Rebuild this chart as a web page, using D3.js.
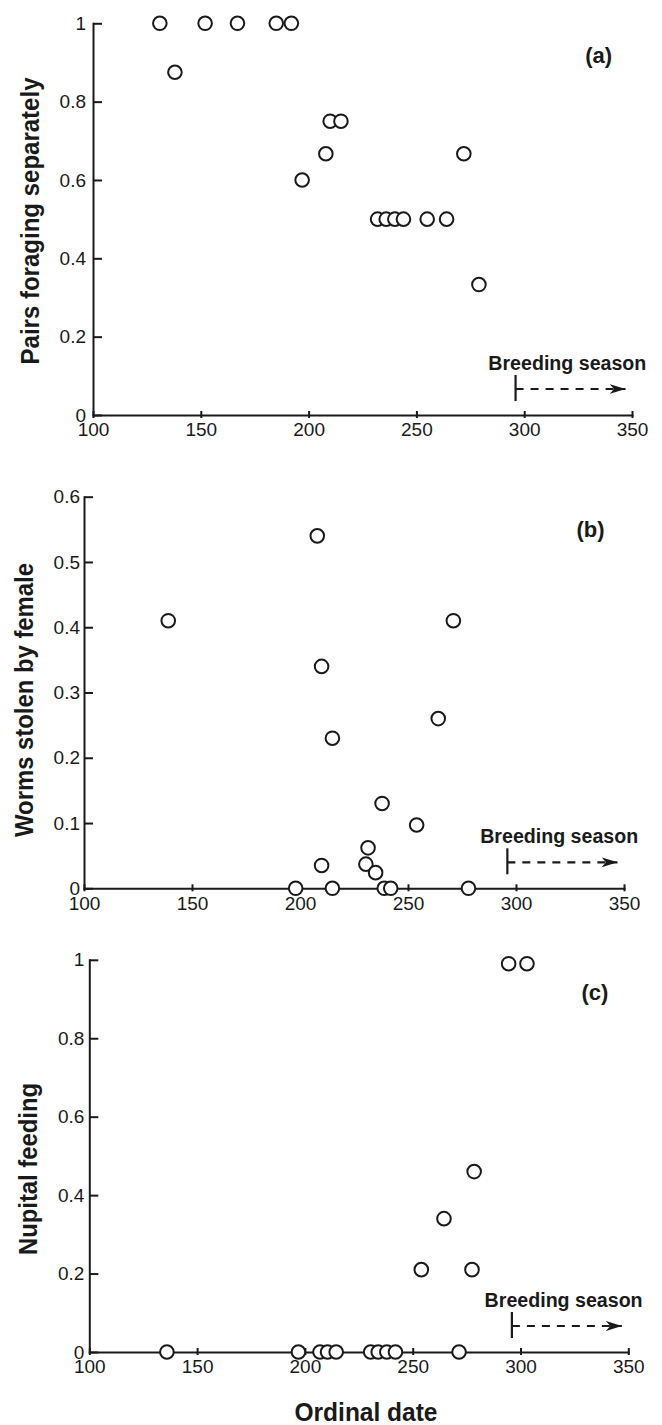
<!DOCTYPE html>
<head>
  <title>Pairs, worms and nupital feeding by ordinal date</title>
  <meta charset="utf-8">
  <style>
  body { margin: 0; background: #fff; }
  svg text { font-family: "Liberation Sans", Arial, sans-serif; fill: #1a1a1a; }
  .tick text { font-size: 19px; }
  .axis path, .axis line { stroke: #1a1a1a; stroke-width: 2; }
  .axisTitle { font-size: 25px; font-weight: bold; }
  .panelLabel { font-size: 22px; font-weight: bold; }
  .season { font-size: 20px; font-weight: bold; }
  circle.pt { fill: #fff; stroke: #1a1a1a; stroke-width: 2; }
  .seasonLine { stroke: #1a1a1a; stroke-width: 2.2; fill: none; }
  </style>
</head>

<body>
  <script src="https://cdn.jsdelivr.net/npm/d3@7"></script>
  <script>
    const width = 662;
    const height = 1425;

    // ticks
    const X_TICKS = [100, 150, 200, 250, 300, 350];
    const Y_TICKS_UNIT = [0, 0.2, 0.4, 0.6, 0.8, 1];
    const Y_TICKS_WORMS = [0, 0.1, 0.2, 0.3, 0.4, 0.5, 0.6];

    // breeding season marker (ordinal date)
    const BREEDING_START = 296;
    const BREEDING_ARROW_END = 347;
    const PANEL_LABEL_DATE = 334.5;
    const SEASON_LABEL_DATE = 320;

    // (a) pairs foraging separately
    const datesA = [131, 138, 152, 167, 185, 192, 197, 208, 210, 215, 232, 236, 240, 244, 255, 264, 272, 279];
    const pairsSeparate = [1, 0.875, 1, 1, 1, 1, 0.6, 0.667, 0.75, 0.75, 0.5, 0.5, 0.5, 0.5, 0.5, 0.5, 0.667, 0.333];

    // (b) worms stolen by female
    const datesB = [139, 198, 208, 210, 210, 215, 215, 230.5, 231.5, 235, 238, 239, 242, 254, 264, 271, 278];
    const wormsStolen = [0.41, 0, 0.54, 0.34, 0.035, 0.23, 0, 0.037, 0.062, 0.024, 0.13, 0, 0, 0.097, 0.26, 0.41, 0];

    // (c) nupital feeding
    const datesC = [136, 197, 207, 210.5, 214.5, 230.5, 234, 238, 242, 254, 264.5, 271.5, 277.5, 278.5, 294.5, 303];
    const nupitalFeeding = [0, 0, 0, 0, 0, 0, 0, 0, 0, 0.21, 0.34, 0, 0.21, 0.46, 0.99, 0.99];

    const svg = d3.select("body")
      .append("svg")
      .attr("width", width)
      .attr("height", height);

    svg.append("defs").append("marker")
      .attr("id", "arrowhead")
      .attr("markerUnits", "userSpaceOnUse")
      .attr("viewBox", "0 0 16 10")
      .attr("refX", 16)
      .attr("refY", 5)
      .attr("markerWidth", 16)
      .attr("markerHeight", 10)
      .attr("orient", "auto")
      .append("path")
      .attr("d", "M0,0 L16,5 L0,10 L4.5,5 Z")
      .attr("fill", "#1a1a1a");

    const drawPanel = p => {
      let xScale = d3.scaleLinear().domain([100, 350]).range([p.left, p.right]);
      let yScale = d3.scaleLinear().domain([0, p.yMax]).range([p.bottom, p.top]);

      let g = svg.append("g").attr("id", p.id);

      // x axis, ticks crossing the line
      let xAxis = g.append("g")
        .attr("class", "axis")
        .attr("transform", `translate(0,${p.bottom})`)
        .call(d3.axisBottom(xScale)
          .tickValues(X_TICKS)
          .tickSizeInner(-4)
          .tickSizeOuter(0)
          .tickPadding(8)
          .tickFormat(d3.format("d")));
      xAxis.selectAll(".tick line").attr("y1", 3);

      // y axis, ticks pointing inward
      g.append("g")
        .attr("class", "axis")
        .attr("transform", `translate(${p.left},0)`)
        .call(d3.axisLeft(yScale)
          .tickValues(p.yTicks)
          .tickSizeInner(-9)
          .tickSizeOuter(0)
          .tickPadding(p.yPad)
          .tickFormat(d => String(d)));

      g.selectAll(".axis .domain").attr("stroke-linecap", "square");

      // points
      g.append("g")
        .selectAll("circle")
        .data(p.dates.map((d, i) => ({ date: d, value: p.values[i] })))
        .enter()
        .append("circle")
        .attr("class", "pt")
        .attr("cx", d => xScale(d.date))
        .attr("cy", d => yScale(d.value))
        .attr("r", 6.8);

      // panel label
      g.append("text")
        .attr("class", "panelLabel")
        .attr("x", xScale(PANEL_LABEL_DATE))
        .attr("y", p.top + 40)
        .attr("text-anchor", "middle")
        .text(p.label);

      // breeding season marker
      g.append("text")
        .attr("class", "season")
        .attr("x", xScale(SEASON_LABEL_DATE))
        .attr("y", p.bottom - 45)
        .attr("text-anchor", "middle")
        .attr("textLength", 158)
        .attr("lengthAdjust", "spacingAndGlyphs")
        .text("Breeding season");

      g.append("line")
        .attr("class", "seasonLine")
        .attr("x1", xScale(BREEDING_START))
        .attr("x2", xScale(BREEDING_START))
        .attr("y1", p.bottom - 40)
        .attr("y2", p.bottom - 14);

      g.append("line")
        .attr("class", "seasonLine")
        .attr("x1", xScale(BREEDING_START))
        .attr("x2", xScale(BREEDING_ARROW_END))
        .attr("y1", p.bottom - 26)
        .attr("y2", p.bottom - 26)
        .attr("stroke-dasharray", "8,7")
        .attr("marker-end", "url(#arrowhead)");

      // y title
      svg.append("text")
        .attr("class", "axisTitle")
        .attr("transform", `translate(${p.titleX},${p.titleY}) rotate(-90)`)
        .attr("text-anchor", "middle")
        .attr("textLength", p.titleLength)
        .attr("lengthAdjust", "spacingAndGlyphs")
        .text(p.title);
    };

    drawPanel({
      id: "panel-a", left: 93, right: 632, bottom: 415, top: 23.3,
      yMax: 1, yTicks: Y_TICKS_UNIT, yPad: 7,
      dates: datesA, values: pairsSeparate,
      label: "(a)", title: "Pairs foraging separately", titleX: 39, titleY: 221, titleLength: 287
    });

    drawPanel({
      id: "panel-b", left: 84, right: 624, bottom: 888.3, top: 496.7,
      yMax: 0.6, yTicks: Y_TICKS_WORMS, yPad: 4,
      dates: datesB, values: wormsStolen,
      label: "(b)", title: "Worms stolen by female", titleX: 33, titleY: 700, titleLength: 274
    });

    drawPanel({
      id: "panel-c", left: 89.3, right: 628.3, bottom: 1352, top: 959.8,
      yMax: 1, yTicks: Y_TICKS_UNIT, yPad: 5,
      dates: datesC, values: nupitalFeeding,
      label: "(c)", title: "Nupital feeding", titleX: 37, titleY: 1169, titleLength: 172
    });

    svg.append("text")
      .attr("class", "axisTitle")
      .attr("x", 366)
      .attr("y", 1421)
      .attr("text-anchor", "middle")
      .attr("textLength", 143)
      .attr("lengthAdjust", "spacingAndGlyphs")
      .text("Ordinal date");
  </script>
</body>
